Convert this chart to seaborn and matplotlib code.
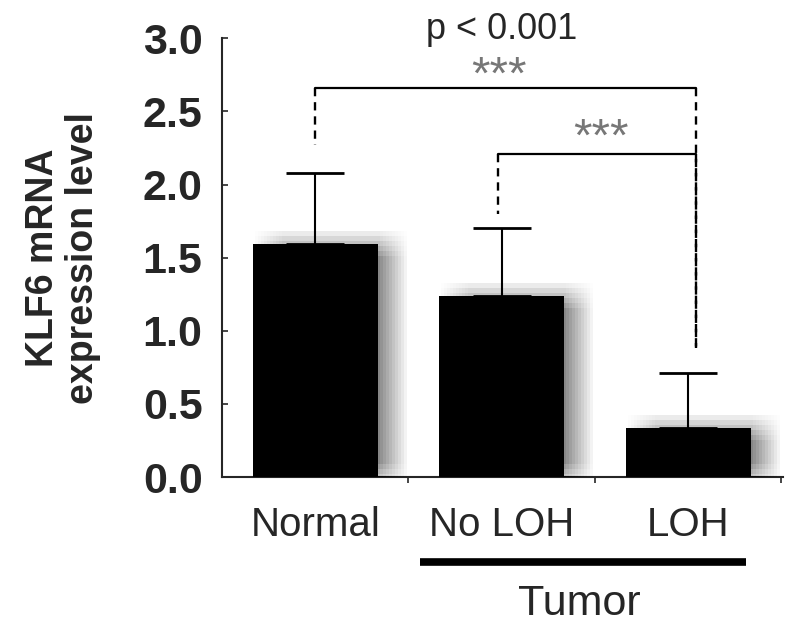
import numpy as np
import pandas as pd
import seaborn as sns
import matplotlib
matplotlib.use('Agg')
import matplotlib.pyplot as plt
import matplotlib.patheffects as pe

# data
groups = ['Normal', 'No LOH', 'LOH']
means = [1.59, 1.24, 0.335]
sd_upper = [0.49, 0.46, 0.375]

# significance brackets: (x_left, x_right, y_line, y_left_end, y_right_end)
bracket_top = (0.0, 2.04, 2.66, 2.27, 0.88)
bracket_low = (0.98, 2.04, 2.21, 1.80, 0.88)
star_pos = [(0.985, 2.74), (1.53, 2.31)]

sns.set_style('ticks')
plt.rcParams['font.family'] = ['Liberation Sans', 'DejaVu Sans']

fig = plt.figure(figsize=(8, 6.37), dpi=100)
ax = fig.add_axes([0.2775, 0.251, 0.7015, 0.689])

df = pd.DataFrame({'group': groups, 'mean': means})
sns.barplot(data=df, x='group', y='mean', color='black', saturation=1,
            width=0.67, errorbar=None, linewidth=0, ax=ax, zorder=3)

# soft grey drop shadow, like the scanned figure
px = 0.72
shadows = []
for dx in [2, 5, 8, 11, 14, 17, 20, 23, 26, 29]:
    for dy in [-12, -7, -2, 3, 8, 13]:
        shadows.append(pe.SimplePatchShadow(offset=(dx * px, dy * px),
                                            shadow_rgbFace='black', alpha=0.007))
for bar in ax.patches:
    bar.set_edgecolor('none')
    bar.set_path_effects(shadows + [pe.Normal()])

ax.errorbar(range(len(groups)), means, yerr=[np.zeros(3), sd_upper],
            fmt='none', ecolor='black', elinewidth=1.5, capsize=21,
            capthick=2, zorder=4)

# brackets
for xl, xr, yl, yle, yre in [bracket_top, bracket_low]:
    ax.plot([xl, xr], [yl, yl], color='black', lw=1.6, zorder=5)
    ax.plot([xl, xl], [yl, yle], color='black', lw=1.7, ls=(0, (3.5, 2.5)), zorder=5)
    ax.plot([xr, xr], [yl, yre], color='black', lw=1.7, ls=(0, (3.5, 2.5)), zorder=5)
for sx, sy in star_pos:
    ax.text(sx, sy, '***', ha='center', va='center', fontsize=34, color='#777777')
ax.text(1.0, 3.06, 'p < 0.001', ha='center', va='center', fontsize=26, clip_on=False)

ax.set_ylim(0, 3.0)
ax.set_xlim(-0.5, 2.51)
ax.set_yticks([0, 0.5, 1.0, 1.5, 2.0, 2.5, 3.0])
ax.set_yticklabels(['0.0', '0.5', '1.0', '1.5', '2.0', '2.5', '3.0'],
                   fontsize=31, fontweight='bold')
ax.tick_params(axis='y', direction='in', length=4, width=1.2, pad=14)
ax.tick_params(axis='x', which='major', length=0, pad=21, labelsize=29)
ax.set_xticks([0.5, 1.5, 2.5], minor=True)
ax.tick_params(axis='x', which='minor', direction='out', length=4, width=1.2)

ax.set_xlabel('')
ax.set_ylabel('KLF6 mRNA\nexpression level', fontsize=27, fontweight='bold',
              linespacing=1.15)
ax.yaxis.set_label_coords(-0.215, 0.5)

for s in ['top', 'right']:
    ax.spines[s].set_visible(False)
ax.spines['left'].set_linewidth(1.5)
ax.spines['bottom'].set_linewidth(1.5)

# Tumor group bar beneath the labels
ax.plot([0.56, 2.31], [-0.58, -0.58], color='black', lw=5.5,
        solid_capstyle='butt', clip_on=False)
ax.text(1.415, -0.87, 'Tumor', ha='center', va='center', fontsize=31)

fig.savefig('out.png', dpi=100)
